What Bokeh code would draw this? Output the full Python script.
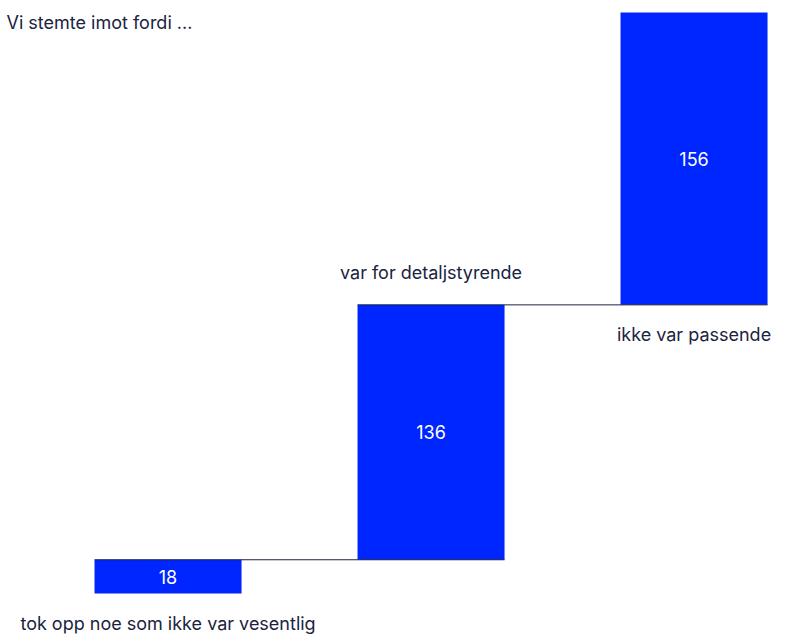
from bokeh.plotting import figure
from bokeh.models import Range1d, Label, ColumnDataSource
from bokeh.core.properties import value
from bokeh.embed import file_html
from bokeh.resources import INLINE

# Data
title_text = "Vi stemte imot fordi ..."
categories = ["tok opp noe som ikke var vesentlig", "var for detaljstyrende", "ikke var passende"]
values = [18, 136, 156]
label_side = ["below", "above", "below"]

BLUE = "#0026ff"
NAVY = "#1b2340"
FONT = "Inter"

W, H = 794, 635
bar_w = 0.559

bottoms, tops = [], []
run = 0
for v in values:
    bottoms.append(run)
    run += v
    tops.append(run)
xs = list(range(len(values)))

p = figure(width=W, height=H, output_backend="svg", toolbar_location=None,
           x_range=Range1d(-0.637, 2.382), y_range=Range1d(-22.41, 316.4),
           min_border=0, min_border_left=0, min_border_right=0,
           min_border_top=0, min_border_bottom=0)
p.xaxis.visible = False
p.yaxis.visible = False
p.grid.visible = False
p.outline_line_color = None
p.background_fill_color = "white"
p.border_fill_color = "white"

src = ColumnDataSource(dict(
    x=xs, bottom=bottoms, top=tops,
    mid=[(b + t) / 2 for b, t in zip(bottoms, tops)],
    val=[str(v) for v in values],
))
p.vbar(x="x", bottom="bottom", top="top", width=bar_w, source=src,
       fill_color=BLUE, line_color=None)

# connectors
x0 = [i - bar_w / 2 for i in xs[:-1]]
x1 = [i + 1 + bar_w / 2 for i in xs[:-1]]
yc = tops[:-1]
p.segment(x0=x0, y0=yc, x1=x1, y1=yc, line_color=NAVY, line_width=1)

# value labels
p.text(x="x", y="mid", text="val", source=src, text_color="white",
       text_font=value(FONT), text_font_size="18px",
       text_align="center", text_baseline="middle")

# category labels
ly, loff = [], []
for b, t, side in zip(bottoms, tops, label_side):
    if side == "below":
        ly.append(b); loff.append(30)
    else:
        ly.append(t); loff.append(-32)
p.text(x=xs, y=ly, y_offset=loff, text=categories, text_color=NAVY,
       text_font=value(FONT), text_font_size="18px",
       text_align="center", text_baseline="middle")

p.add_layout(Label(x=6, y=H - 22, x_units="screen", y_units="screen",
                   text=title_text, text_color=NAVY, text_font=FONT,
                   text_font_size="18px", text_baseline="middle",
                   text_align="left"))

open("out.html", "w").write(file_html(p, INLINE))
